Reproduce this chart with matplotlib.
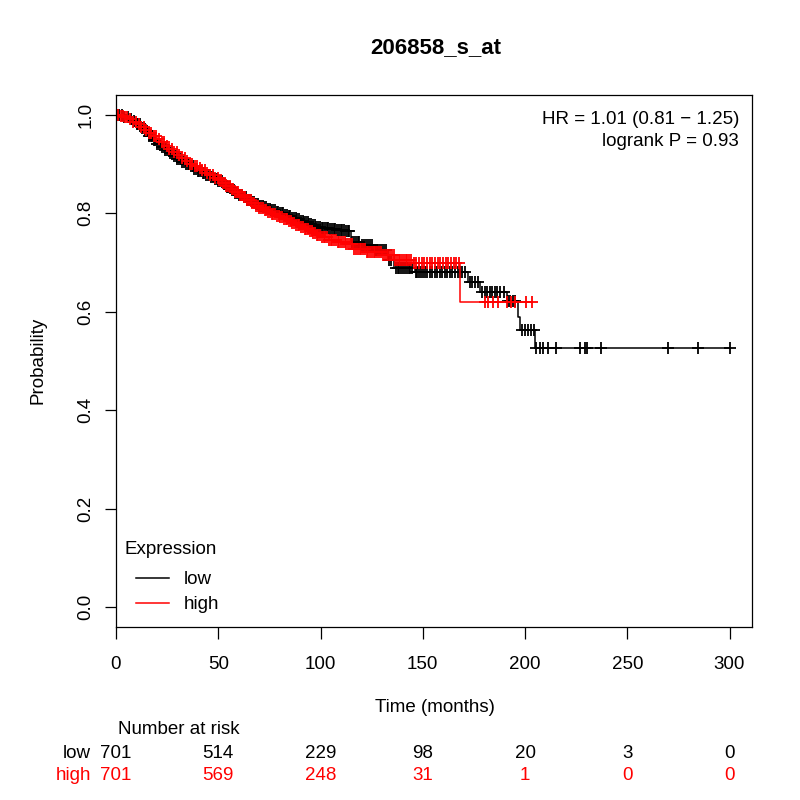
import numpy as np
import matplotlib
matplotlib.use("Agg")
import matplotlib.pyplot as plt
from matplotlib.lines import Line2D

plt.rcParams['font.family'] = ['Liberation Sans', 'DejaVu Sans']

# ---------------- data ----------------
title = "206858_s_at"
group_names = ["low", "high"]
group_colors = ["black", "red"]

# Kaplan-Meier step points (time in months, survival probability)
low_times = [0, 2, 4, 6, 8, 10, 12, 14, 16, 18, 20, 22, 24, 26, 28, 30, 32, 34, 36, 38,
             40, 42, 44, 46, 48, 50, 52, 54, 56, 58, 60, 62, 64, 66, 68, 70, 72, 74, 76, 78,
             80, 82, 84, 86, 88, 90, 92, 94, 96, 98, 100, 104, 108, 112, 115, 120, 126, 133,
             136, 146, 172, 178, 191, 196.6, 197.5, 205]
low_surv = [1.000, 0.999, 0.996, 0.992, 0.987, 0.981, 0.974, 0.966, 0.957, 0.948, 0.940,
            0.934, 0.928, 0.922, 0.916, 0.910, 0.905, 0.900, 0.895, 0.890, 0.886, 0.882,
            0.878, 0.874, 0.870, 0.865, 0.860, 0.854, 0.848, 0.842, 0.837, 0.832, 0.827,
            0.822, 0.818, 0.815, 0.812, 0.809, 0.806, 0.803, 0.800, 0.797, 0.794, 0.791,
            0.788, 0.785, 0.782, 0.779, 0.776, 0.773, 0.770, 0.767, 0.765, 0.763, 0.742,
            0.735, 0.726, 0.705, 0.689, 0.680, 0.661, 0.641, 0.621, 0.590, 0.563, 0.526]

high_times = [0, 2, 4, 6, 8, 10, 12, 14, 16, 18, 20, 22, 24, 26, 28, 30, 32, 34, 36, 38,
              40, 42, 44, 46, 48, 50, 52, 54, 56, 58, 60, 62, 64, 66, 68, 70, 72, 74, 76, 78,
              80, 82, 84, 86, 88, 90, 92, 94, 96, 98, 100, 104, 108, 112, 116, 122, 130, 136,
              145, 168.1]
high_surv = [1.000, 0.998, 0.995, 0.991, 0.986, 0.981, 0.975, 0.969, 0.963, 0.957, 0.951,
             0.944, 0.937, 0.931, 0.925, 0.918, 0.912, 0.906, 0.900, 0.895, 0.891, 0.887,
             0.882, 0.877, 0.872, 0.867, 0.862, 0.856, 0.850, 0.844, 0.838, 0.832, 0.827,
             0.821, 0.815, 0.810, 0.806, 0.802, 0.798, 0.795, 0.792, 0.788, 0.784, 0.780,
             0.776, 0.772, 0.768, 0.764, 0.760, 0.756, 0.752, 0.746, 0.742, 0.738, 0.728,
             0.722, 0.715, 0.705, 0.698, 0.619]

# censoring times (months)
low_censor = [0.6, 1.5, 2.8, 4.1, 5.9, 7.4, 8.8, 10.2, 11.0, 11.9, 12.7, 13.6, 14.3, 15.2,
              16.0, 16.9, 17.7, 18.4, 19.3, 20.1, 21.0, 21.8, 22.5, 23.4, 24.2, 25.1, 25.9,
              26.6, 27.5, 28.3, 29.2, 30.0, 30.9, 31.7, 32.4, 33.3, 34.1, 35.0, 35.8, 36.7,
              37.5, 38.2, 39.1, 40.0, 40.8, 41.7, 42.5, 43.2, 44.1, 45.0, 45.8, 46.6, 47.5,
              48.3, 49.2, 50.1, 50.9, 51.8, 52.6, 53.3, 54.2, 55.0, 55.9, 56.7, 57.6, 58.4,
              59.1, 60.0, 60.8, 61.7, 62.5, 63.4, 64.2, 65.0, 65.9, 66.7, 67.6, 68.4, 69.3,
              70.1, 70.9, 71.8, 72.6, 73.5, 74.3, 75.2, 76.0, 76.9, 77.7, 78.5, 79.4, 80.2,
              81.1, 81.9, 82.8, 83.6, 84.5, 85.3, 86.1, 87.0, 87.8, 88.7, 89.5, 90.4, 91.2,
              92.1, 92.9, 93.7, 94.6, 95.4, 96.3, 97.1, 98.0, 98.8, 99.7, 100.5, 101.4, 102.2,
              103.1, 103.9, 104.8, 105.6, 106.5, 107.3, 108.2, 109.0, 109.9, 110.7, 111.6,
              112.4, 113.3, 114.1, 115.5, 116.4, 117.2, 118.1, 119.0, 120.5, 121.4, 122.3,
              123.2, 124.1, 125.0, 126.5, 127.4, 128.3, 129.2, 130.1, 131.0, 131.9, 133.6,
              134.5, 136.8, 137.7, 138.6, 139.5, 140.4, 141.3, 142.2, 143.1, 144.0, 144.9,
              146.5, 147.4, 148.3, 149.2, 150.1, 151.0, 152.0, 153.3, 154.5, 155.8, 157.0,
              158.3, 159.5, 160.8, 162.0, 163.3, 164.5, 165.7, 167.0, 168.2, 169.4, 170.6,
              173.0, 174.2, 175.5, 176.8, 179.0, 180.3, 181.5, 182.8, 184.0, 185.3, 186.5,
              188.0, 189.5, 191.5, 192.7, 193.9, 195.1, 198.5, 200.0, 201.5, 203.0, 204.3,
              205.5, 207.2, 208.8, 211.2, 215.3, 227.0, 229.1, 230.2, 237.2, 269.8, 284.7,
              300.0]
high_censor = [0.3, 1.1, 2.4, 3.6, 4.2, 5.5, 7.0, 8.3, 9.7, 11.2, 12.4, 13.5, 14.8, 16.1,
               17.3, 18.6, 19.8, 21.1, 22.3, 23.6, 24.8, 26.0, 27.3, 28.5, 29.8, 31.0, 32.3,
               33.5, 34.8, 36.0, 37.2, 38.5, 39.7, 41.0, 42.2, 43.5, 44.7, 46.0, 47.2, 48.4,
               49.7, 50.6, 51.4, 52.3, 53.1, 54.0, 54.8, 55.7, 56.5, 57.4, 58.2, 59.1, 59.9,
               60.8, 61.6, 62.5, 63.3, 64.2, 65.0, 65.9, 66.7, 67.6, 68.4, 69.3, 70.1, 71.0,
               71.8, 72.7, 73.5, 74.4, 75.2, 76.1, 76.9, 77.8, 78.6, 79.5, 80.3, 81.2, 82.0,
               82.9, 83.7, 84.6, 85.4, 86.3, 87.1, 88.0, 88.8, 89.7, 90.5, 91.4, 92.2, 93.1,
               93.9, 94.8, 95.6, 96.5, 97.3, 98.2, 99.0, 99.9, 100.7, 101.6, 102.4, 103.3,
               104.1, 105.0, 105.8, 106.7, 107.5, 108.4, 109.2, 110.1, 110.9, 111.8, 112.6,
               113.5, 114.3, 115.2, 116.6, 117.5, 118.3, 119.2, 120.0, 120.9, 121.7, 122.6,
               123.4, 124.3, 125.1, 126.0, 126.8, 127.7, 128.5, 129.4, 130.6, 131.5, 132.3,
               133.2, 134.0, 134.9, 135.7, 136.6, 137.4, 138.3, 139.1, 140.0, 140.8, 141.7,
               142.5, 143.4, 144.2, 145.6, 146.9, 148.2, 149.5, 150.8, 152.1, 153.4, 154.7,
               156.0, 157.3, 158.6, 159.9, 161.2, 162.5, 163.8, 165.1, 166.4, 167.6, 180.3,
               182.0, 184.4, 186.8, 191.2, 193.0, 195.1, 200.5, 203.4]

x_ticks = [0, 50, 100, 150, 200, 250, 300]
y_ticks = [0.0, 0.2, 0.4, 0.6, 0.8, 1.0]
y_tick_labels = ["0.0", "0.2", "0.4", "0.6", "0.8", "1.0"]
risk_low = [701, 514, 229, 98, 20, 3, 0]
risk_high = [701, 569, 248, 31, 1, 0, 0]
hr_text = "HR = 1.01 (0.81 \u2212 1.25)"
p_text = "logrank P = 0.93"

# ---------------- plotting ----------------
W = H = 800
fig = plt.figure(figsize=(8, 8), dpi=100)

def fx(px):
    return px / W

def fy(py):
    return 1 - py / H

left, right, top, bottom = 116, 752, 95, 627
ax = fig.add_axes([fx(left), fy(bottom), fx(right - left), (bottom - top) / H])
ax.set_xlim(0, 311)
ax.set_ylim(-0.04, 1.04)

FS = 13.5

def km_plot(times, surv, cens, color):
    times = np.asarray(times, float)
    surv = np.asarray(surv, float)
    cens = np.asarray(cens, float)
    end = max(cens.max(), times.max())
    xs = np.append(times, end)
    ys = np.append(surv, surv[-1])
    ax.plot(xs, ys, drawstyle='steps-post', color=color, lw=1.1, zorder=2)
    idx = np.searchsorted(times, cens, side='right') - 1
    ax.plot(cens, surv[idx], linestyle='none', marker='+', markersize=9,
            markeredgewidth=1.3, color=color, zorder=2)

km_plot(low_times, low_surv, low_censor, group_colors[0])
km_plot(high_times, high_surv, high_censor, group_colors[1])

for s in ax.spines.values():
    s.set_linewidth(0.9)
ax.set_xticks(x_ticks)
ax.set_xticklabels([str(v) for v in x_ticks], fontsize=FS)
ax.set_yticks(y_ticks)
ax.set_yticklabels(y_tick_labels, fontsize=FS, rotation=90, va='center')
ax.tick_params(axis='x', length=8.6, width=0.9, pad=12)
ax.tick_params(axis='y', length=8.0, width=0.9, pad=7.5)

# title and axis labels
fig.text(fx(436), fy(48), title, ha='center', va='center', fontsize=16, fontweight='bold')
fig.text(fx(38), fy(360), "Probability", ha='center', va='center', rotation=90, fontsize=FS)
fig.text(fx(435), fy(707), "Time (months)", ha='center', va='center', fontsize=FS)

# HR / logrank annotation
fig.text(fx(739), fy(120), hr_text, ha='right', va='center', fontsize=FS)
fig.text(fx(739), fy(141), p_text, ha='right', va='center', fontsize=FS)

# legend
fig.text(fx(125), fy(550), "Expression", ha='left', va='center', fontsize=FS)
handles = [Line2D([0], [0], color=c, lw=1.1) for c in group_colors]
ax.legend(handles, group_names, loc='upper left', bbox_to_anchor=(fx(136), fy(571)),
          bbox_transform=fig.transFigure, frameon=False, fontsize=FS,
          handlelength=1.75, handletextpad=0.8, labelspacing=0.43,
          borderpad=0, borderaxespad=0)

# number at risk table
fig.text(fx(118), fy(730), "Number at risk", ha='left', va='center', fontsize=FS)
rows = [(group_names[0], risk_low, group_colors[0], 753),
        (group_names[1], risk_high, group_colors[1], 775)]
fig.canvas.draw()
for name, vals, col, py in rows:
    fig.text(fx(91), fy(py), name, ha='right', va='center', fontsize=FS, color=col)
    for t, v in zip(x_ticks, vals):
        xdisp = ax.transData.transform((t, 0))[0]
        xfig = fig.transFigure.inverted().transform((xdisp, 0))[0]
        fig.text(xfig, fy(py), str(v), ha='center', va='center', fontsize=FS, color=col)

fig.savefig("out.png", dpi=100)
